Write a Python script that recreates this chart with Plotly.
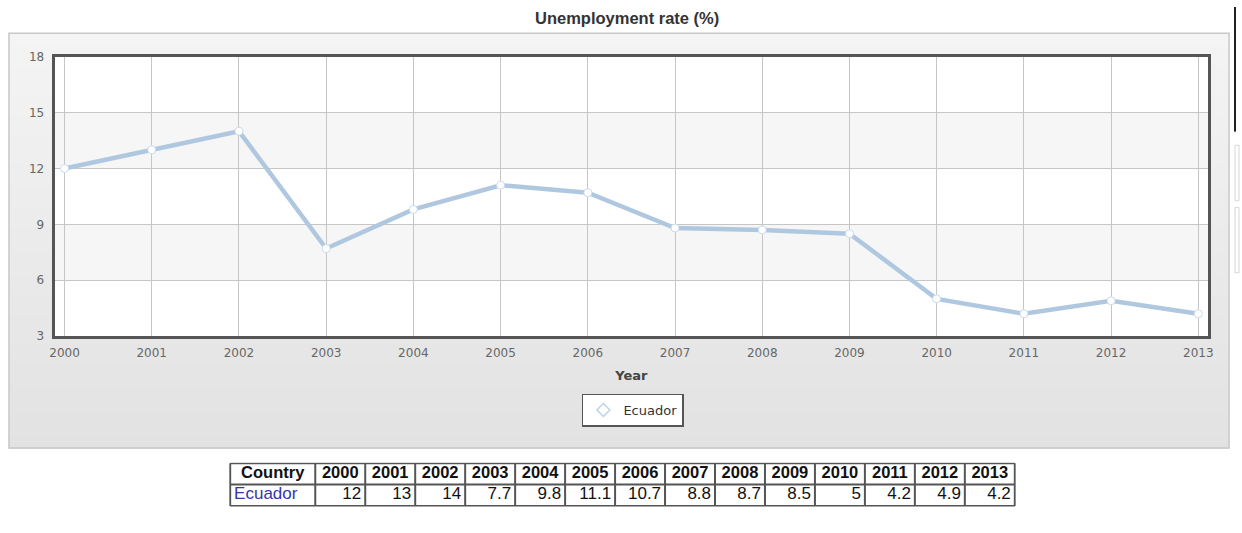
import itertools
import plotly.graph_objects as go

# Unemployment rate, Ecuador, 2000-2013
country = "Ecuador"
years = [2000, 2001, 2002, 2003, 2004, 2005, 2006, 2007, 2008, 2009, 2010, 2011, 2012, 2013]
rates = [12, 13, 14, 7.7, 9.8, 11.1, 10.7, 8.8, 8.7, 8.5, 5, 4.2, 4.9, 4.2]
y_ticks = [3, 6, 9, 12, 15, 18]

# table column widths (px): name column, then one per year
col_widths = [86] + [50.5] * len(years)

W, H = 1242, 533


def px_x(p):
    return p / W


def px_y(p):
    return (H - p) / H


LINE = "#b0c8df"
TICK_FONT = dict(family="DejaVu Sans", size=12, color="#666666")

fig = go.Figure()

# series line with white circular markers
fig.add_trace(go.Scatter(
    x=years, y=rates, mode="lines+markers", name=country,
    line=dict(color=LINE, width=4.5),
    marker=dict(symbol="circle", size=8, color="white",
                line=dict(color="#c9dcee", width=1)),
    showlegend=False, legendgroup=country, hoverinfo="x+y",
))
# legend entry (hollow diamond symbol)
fig.add_trace(go.Scatter(
    x=[None], y=[None], mode="markers", name=country, legendgroup=country,
    marker=dict(symbol="diamond-open", size=10, color="#bcd3e8",
                line=dict(width=1.5)),
))

# ---- data table drawn on its own pixel-scaled axes (x2/y2) ----
edges = [0] + list(itertools.accumulate(col_widths))
centers = [(a + b) / 2 for a, b in zip(edges[:-1], edges[1:])]
table_w = edges[-1]
pad = 4

header_text = ["Country"] + [str(y) for y in years]
fig.add_trace(go.Scatter(
    x=centers, y=[0.5] * len(centers), xaxis="x2", yaxis="y2",
    mode="text", text=header_text, textposition="middle center",
    textfont=dict(family="Liberation Sans", size=16.5, color="#111111", weight="bold"),
    showlegend=False, hoverinfo="skip",
))
fig.add_trace(go.Scatter(
    x=[edges[0] + pad], y=[1.5], xaxis="x2", yaxis="y2",
    mode="text", text=[country], textposition="middle right",
    textfont=dict(family="Liberation Sans", size=17, color="#3636a6"),
    showlegend=False, hoverinfo="skip",
))
fig.add_trace(go.Scatter(
    x=[e - pad for e in edges[2:]], y=[1.5] * len(rates), xaxis="x2", yaxis="y2",
    mode="text", text=[f"{v:g}" for v in rates], textposition="middle left",
    textfont=dict(family="Liberation Sans", size=17, color="#111111"),
    showlegend=False, hoverinfo="skip",
))

shapes = []

# chart frame: vertical grey gradient built from thin strips
top, bot, left, right = 27, 453, 4, 1234
n = 60
c0, c1 = (0xf4, 0xf4, 0xf4), (0xe2, 0xe2, 0xe2)
for i in range(n):
    t = i / (n - 1)
    c = tuple(round(a + (b - a) * t) for a, b in zip(c0, c1))
    y0 = top + (bot - top) * i / n
    y1 = top + (bot - top) * (i + 1) / n
    shapes.append(dict(type="rect", xref="paper", yref="paper", layer="below",
                       x0=px_x(left), x1=px_x(right), y0=px_y(y1 + 0.6), y1=px_y(y0),
                       fillcolor="rgb(%d,%d,%d)" % c, line=dict(width=0)))
shapes.append(dict(type="rect", xref="paper", yref="paper", layer="below",
                   x0=px_x(left), x1=px_x(right), y0=px_y(bot), y1=px_y(top),
                   fillcolor="rgba(0,0,0,0)", line=dict(color="#c8c8c8", width=1.5)))

# white plotting area with alternating bands
shapes.append(dict(type="rect", xref="x domain", yref="y domain", layer="below",
                   x0=0, x1=1, y0=0, y1=1, fillcolor="white", line=dict(width=0)))
for lo, hi in [(6, 9), (12, 15)]:
    shapes.append(dict(type="rect", xref="x domain", yref="y", layer="below",
                       x0=0, x1=1, y0=lo, y1=hi,
                       fillcolor="#f6f6f6", line=dict(width=0)))

# table grid lines
TB = dict(color="#555555", width=2)
for e in edges:
    shapes.append(dict(type="line", xref="x2", yref="y2", x0=e, x1=e, y0=0, y1=2, line=TB))
for r in (0, 1, 2):
    shapes.append(dict(type="line", xref="x2", yref="y2", x0=0, x1=table_w, y0=r, y1=r, line=TB))

# page edge decorations on the right
shapes.append(dict(type="line", xref="paper", yref="paper",
                   x0=px_x(1240), x1=px_x(1240), y0=px_y(128), y1=px_y(0),
                   line=dict(color="#222222", width=2)))
for a, b in [(142, 199), (206, 273)]:
    shapes.append(dict(type="rect", xref="paper", yref="paper",
                       x0=px_x(1240), x1=px_x(1244), y0=px_y(b), y1=px_y(a),
                       fillcolor="rgba(0,0,0,0)", line=dict(color="#d6d6d6", width=1)))

fig.update_layout(
    width=W, height=H,
    margin=dict(l=0, r=0, t=0, b=0),
    paper_bgcolor="white", plot_bgcolor="white",
    shapes=shapes,
    showlegend=True,
    legend=dict(
        x=px_x(633), y=px_y(397), xanchor="center", yanchor="top",
        bgcolor="white", bordercolor="#555555", borderwidth=1.5,
        font=dict(family="DejaVu Sans", size=13, color="#333333"),
    ),
    annotations=[dict(
        text="<b>Unemployment rate (%)</b>", xref="paper", yref="paper",
        x=px_x(627), y=px_y(11), xanchor="center", yanchor="middle",
        showarrow=False,
        font=dict(family="Liberation Sans", size=16.5, color="#333333"),
    )],
    xaxis=dict(
        domain=[px_x(50), px_x(1213)],
        range=[2000 - 10 / 87.92, 2013 + 10 / 87.92],
        tickmode="array", tickvals=years, ticktext=[str(y) for y in years],
        showgrid=True, gridcolor="#c6c6c6", gridwidth=1,
        showline=True, linecolor="#555555", linewidth=3, mirror=True,
        zeroline=False, ticks="", ticklabelstandoff=3,
        tickfont=TICK_FONT,
        title=dict(text="<b>Year</b>", standoff=13,
                   font=dict(family="DejaVu Sans", size=13, color="#444444")),
    ),
    yaxis=dict(
        domain=[px_y(338), px_y(51)],
        range=[3, 18],
        tickmode="array", tickvals=y_ticks,
        showgrid=True, gridcolor="#c6c6c6", gridwidth=1,
        showline=True, linecolor="#555555", linewidth=3, mirror=True,
        zeroline=False, ticks="", ticklabelstandoff=5,
        tickfont=TICK_FONT,
    ),
    xaxis2=dict(domain=[px_x(226), px_x(226 + table_w)], range=[-1, table_w + 1],
                anchor="y2", visible=False, fixedrange=True),
    yaxis2=dict(domain=[px_y(513), px_y(468)], range=[2.03, -0.03],
                anchor="x2", visible=False, fixedrange=True),
)

fig.write_html("out.html")
